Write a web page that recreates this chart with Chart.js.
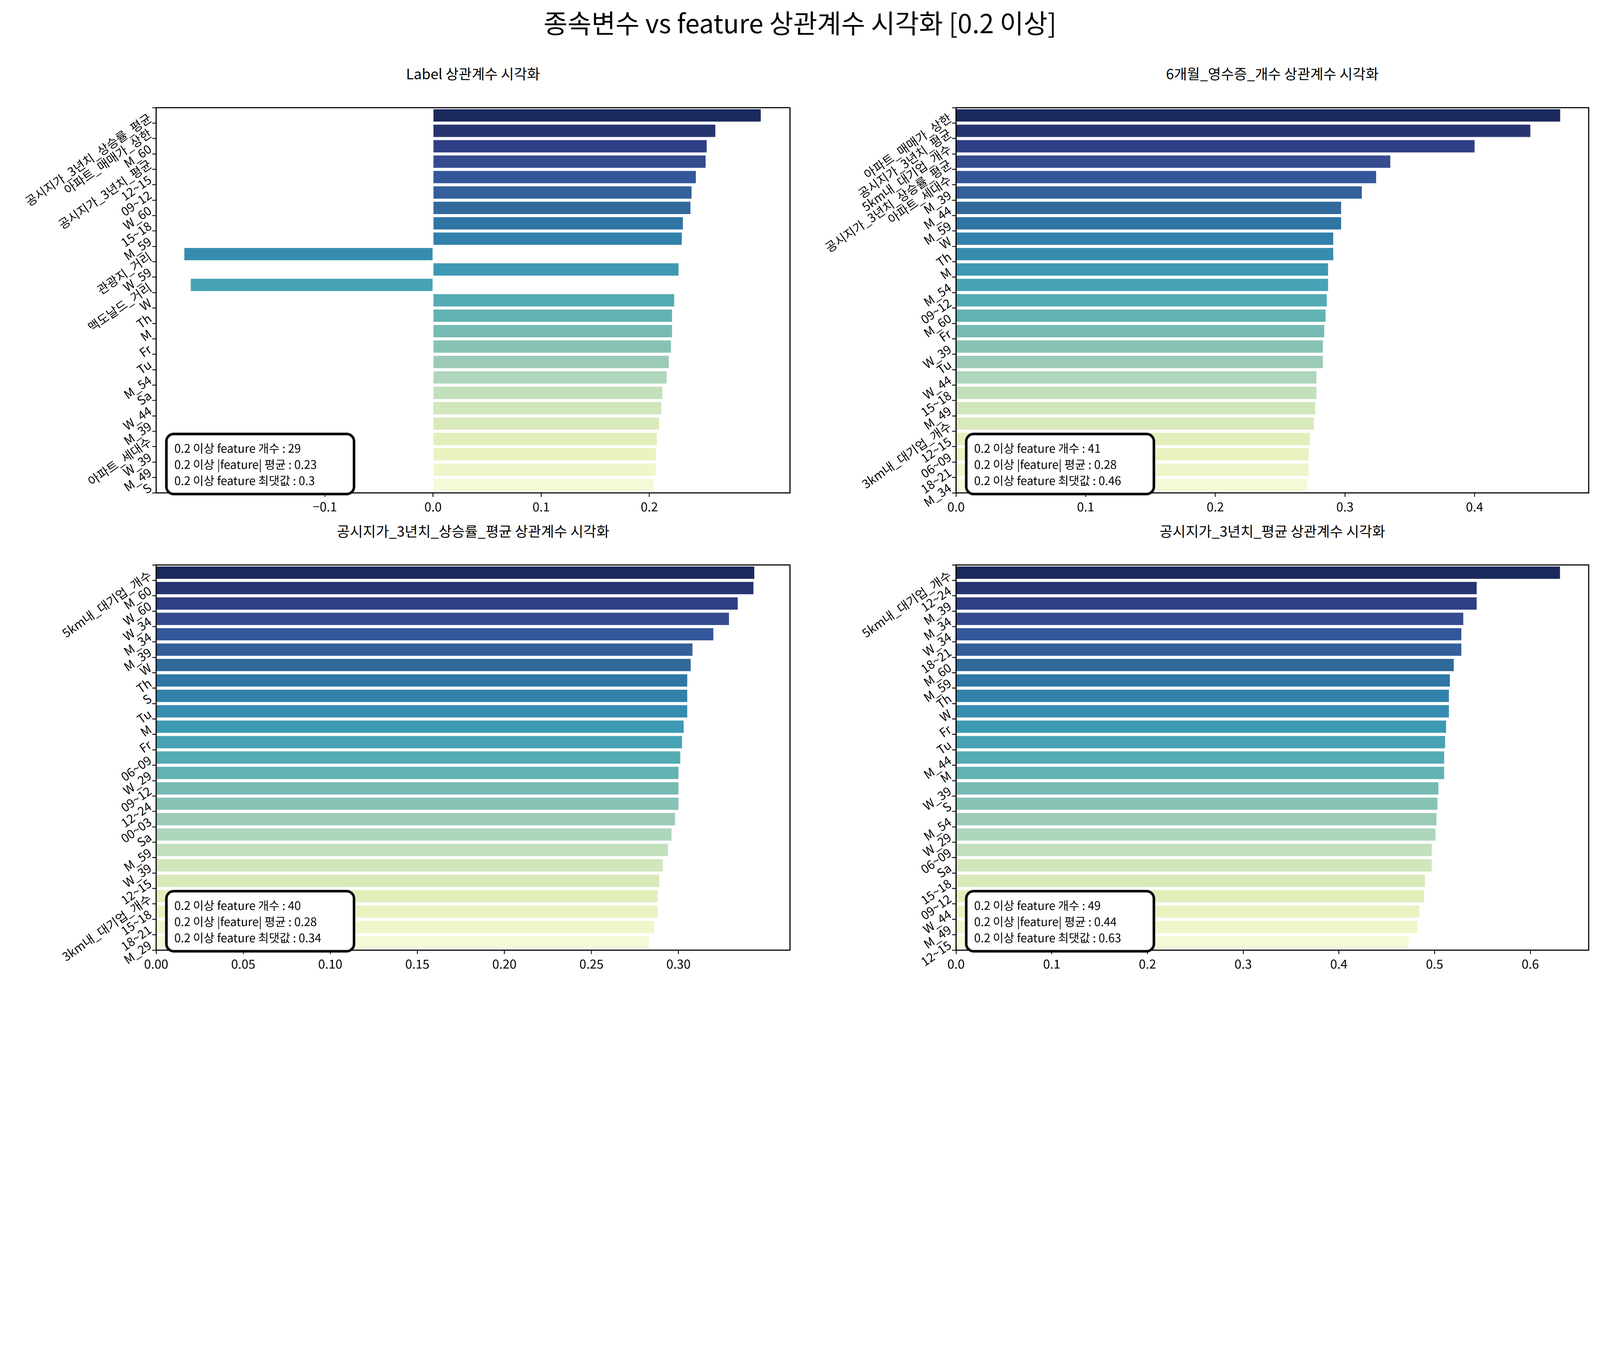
<!DOCTYPE html>
<html><head><meta charset="utf-8">
<script src="https://cdn.jsdelivr.net/npm/chart.js@4.4.0/dist/chart.umd.min.js"></script>
<style>
html,body{margin:0;padding:0;background:#fff;overflow:hidden;}
#wrap{width:5645px;height:3461px;position:absolute;left:0;top:0;transform-origin:0 0;font-family:"Noto Sans CJK KR","Noto Sans",sans-serif;background:#fff;}
.t{position:absolute;text-align:center;color:#000;white-space:nowrap;}
.c{position:absolute;}
</style></head><body>
<div id="wrap">
<div class="t" style="left:0;width:5645px;top:10px;font-size:92px;">종속변수 vs feature 상관계수 시각화 [0.2 이상]</div>
<div class="t" style="left:551px;width:2236px;top:222px;font-size:50px;">Label 상관계수 시각화</div>
<div class="t" style="left:3373px;width:2232px;top:222px;font-size:50px;">6개월_영수증_개수 상관계수 시각화</div>
<div class="t" style="left:551px;width:2236px;top:1836px;font-size:50px;">공시지가_3년치_상승률_평균 상관계수 시각화</div>
<div class="t" style="left:3373px;width:2232px;top:1836px;font-size:50px;">공시지가_3년치_평균 상관계수 시각화</div>
<div class="c" style="left:0;top:371px;width:2800px;height:1520px;"><canvas id="c1"></canvas></div>
<div class="c" style="left:2800px;top:371px;width:2845px;height:1520px;"><canvas id="c2"></canvas></div>
<div class="c" style="left:0;top:1984px;width:2800px;height:1520px;"><canvas id="c3"></canvas></div>
<div class="c" style="left:2800px;top:1984px;width:2845px;height:1520px;"><canvas id="c4"></canvas></div>
</div>
<script>
const labels1=["공시지가_3년치_상승률_평균","아파트_매매가_상한","M_60","공시지가_3년치_평균","12~15","09~12","W_60","15~18","M_59","관광지_거리","W_59","맥도날드_거리","W","Th","M","Fr","Tu","M_54","Sa","W_44","M_39","아파트_세대수","W_39","M_49","S"];
const values1=[0.303,0.261,0.253,0.252,0.243,0.239,0.238,0.231,0.230,-0.230,0.227,-0.224,0.223,0.221,0.221,0.220,0.218,0.216,0.212,0.211,0.209,0.207,0.206,0.206,0.204];
const labels2=["아파트_매매가_상한","공시지가_3년치_평균","5km내_대기업_개수","공시지가_3년치_상승률_평균","아파트_세대수","M_39","M_44","M_59","W","Th","M","M_54","09~12","M_60","Fr","W_39","Tu","W_44","15~18","M_49","3km내_대기업_개수","12~15","06~09","18~21","M_34"];
const values2=[0.466,0.443,0.400,0.335,0.324,0.313,0.297,0.297,0.291,0.291,0.287,0.287,0.286,0.285,0.284,0.283,0.283,0.278,0.278,0.277,0.276,0.273,0.272,0.272,0.271];
const labels3=["5km내_대기업_개수","M_60","W_60","W_34","M_34","M_39","W","Th","S","Tu","M","Fr","06~09","W_29","09~12","12~24","00~03","Sa","M_59","W_39","12~15","3km내_대기업_개수","15~18","18~21","M_29"];
const values3=[0.3435,0.343,0.334,0.329,0.320,0.308,0.307,0.305,0.305,0.305,0.303,0.302,0.301,0.300,0.300,0.300,0.298,0.296,0.294,0.291,0.289,0.288,0.288,0.286,0.283];
const labels4=["5km내_대기업_개수","12~24","M_39","M_34","W_34","18~21","M_60","M_59","Th","W","Fr","Tu","M_44","M","W_39","S","M_54","W_29","06~09","Sa","15~18","09~12","W_44","M_49","12~15"];
const values4=[0.631,0.544,0.544,0.530,0.528,0.528,0.520,0.516,0.515,0.515,0.512,0.511,0.510,0.510,0.504,0.503,0.502,0.501,0.497,0.497,0.490,0.489,0.484,0.482,0.473];
const boxTexts=[["0.2 이상 feature 개수 : 29","0.2 이상 |feature| 평균 : 0.23","0.2 이상 feature 최댓값 : 0.3"],
["0.2 이상 feature 개수 : 41","0.2 이상 |feature| 평균 : 0.28","0.2 이상 feature 최댓값 : 0.46"],
["0.2 이상 feature 개수 : 40","0.2 이상 |feature| 평균 : 0.28","0.2 이상 feature 최댓값 : 0.34"],
["0.2 이상 feature 개수 : 49","0.2 이상 |feature| 평균 : 0.44","0.2 이상 feature 최댓값 : 0.63"]];
const s=window.innerWidth/5645;
document.getElementById('wrap').style.transform='scale('+s+')';
const FONT='"Noto Sans CJK KR","Noto Sans",sans-serif';
const stops=["#1b295d","#263470","#2f3f85","#344b8e","#33579a","#335f9a","#31699b","#2f76a5","#3281aa","#368daf","#3d99b3","#47a3b5","#54abb4","#62b2b3","#75bbb4","#87c3b5","#9bcbb7","#aed6bc","#c1e0bb","#d0e6bb","#d9eaba","#e2efbb","#eaf3c0","#f0f6cb","#f6f9d8"];
function hex(h){return [1,3,5].map(i=>parseInt(h.substr(i,2),16));}
function pal(n){const out=[];for(let i=0;i<n;i++){const t=i/(n-1)*(stops.length-1);const a=Math.floor(t),b=Math.min(a+1,stops.length-1),f=t-a;const A=hex(stops[a]),B=hex(stops[b]);out.push(`rgb(${A.map((v,k)=>Math.round(v+(B[k]-v)*f)).join(',')})`);}return out;}
function make(id,labels,values,min,max,step,dec,yW,padR,box){
 const plugin={id:'deco',afterDraw(ch){
  const c=ch.ctx,ys=ch.scales.y,a=ch.chartArea;
  c.save();
  c.lineWidth=4;c.strokeStyle='#000';c.strokeRect(a.left,a.top,a.right-a.left,a.bottom-a.top);
  c.font='43px '+FONT;c.fillStyle='#000';c.textAlign='right';c.textBaseline='middle';
  labels.forEach((l,i)=>{const y=ys.getPixelForTick(i);c.save();c.translate(a.left-22,y+4);c.rotate(-35*Math.PI/180);c.fillText(l,0,0);c.restore();});
  const bx=a.left+36,bw=662,bh=212,by=a.bottom-bh+4;
  c.beginPath();c.roundRect(bx,by,bw,bh,26);c.fillStyle='#fff';c.fill();c.lineWidth=9;c.strokeStyle='#000';c.stroke();
  c.fillStyle='#000';c.textAlign='left';c.font='41px '+FONT;
  box.forEach((t,i)=>c.fillText(t,bx+28,by+50+i*57));
  c.restore();}};
 new Chart(document.getElementById(id),{type:'bar',plugins:[plugin],
  data:{labels:labels,datasets:[{data:values,backgroundColor:pal(labels.length),categoryPercentage:1,barPercentage:0.8}]},
  options:{indexAxis:'y',responsive:true,maintainAspectRatio:false,animation:false,devicePixelRatio:Math.max(1,s*(window.devicePixelRatio||1)),
   layout:{padding:{right:padR,top:0,left:0,bottom:0}},
   plugins:{legend:{display:false},tooltip:{enabled:false}},
   scales:{
    x:{min:min,max:max,border:{color:'#000',width:4},grid:{drawOnChartArea:false,color:'#000',tickLength:14,lineWidth:3},
     afterBuildTicks(sc){sc.ticks=sc.ticks.filter(t=>Math.abs(Math.round(t.value/step)*step-t.value)<1e-9);},
     afterFit(sc){sc.height=152;},
     ticks:{stepSize:step,color:'#000',font:{size:44,family:FONT},padding:8,callback:v=>(v<0?'\u2212':'')+Math.abs(v).toFixed(dec)}},
    y:{border:{color:'#000',width:4},grid:{drawOnChartArea:false,color:'#000',tickLength:14,lineWidth:3},
     ticks:{color:'rgba(0,0,0,0)',font:{size:10}},afterFit(sc){sc.width=yW;}}
   }}});
}
make('c1',labels1,values1,-0.256,0.330,0.1,1,551,13,boxTexts[0]);
make('c2',labels2,values2,0,0.488,0.1,1,573,40,boxTexts[1]);
make('c3',labels3,values3,0,0.364,0.05,2,551,13,boxTexts[2]);
make('c4',labels4,values4,0,0.661,0.1,1,573,40,boxTexts[3]);
</script></body></html>
